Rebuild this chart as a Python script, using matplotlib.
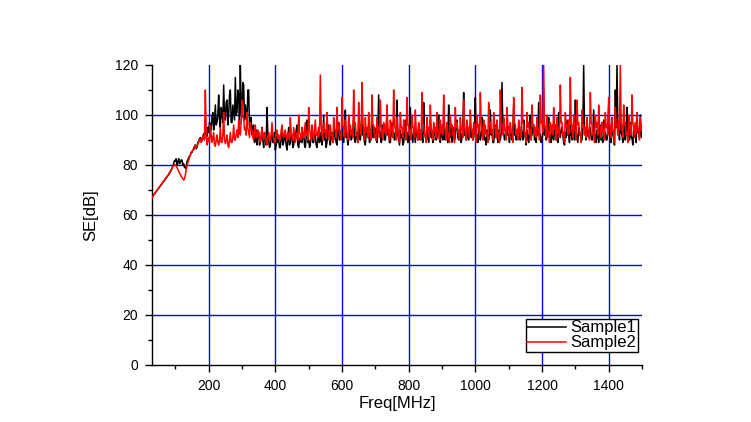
import numpy as np
import matplotlib
matplotlib.use("Agg")
import matplotlib.pyplot as plt

plt.rcParams['font.family'] = ['Liberation Sans', 'DejaVu Sans']

# Frequency grid (MHz): start and step of the sampled spectrum
freq_start = 30
freq_step = 2.5

# SE [dB], rows of 20 samples = 50 MHz each, starting at 30 MHz
sample1 = [
    67, 67.5, 68, 68.4, 68.9, 69.4, 69.8, 70.3, 70.7, 71.2, 71.6, 72.1, 72.5, 73, 73.4, 73.9, 74.3, 74.8, 75.2, 75.7,
    76, 76.8, 77.2, 78, 78.5, 79.5, 80.5, 81.8, 81.5, 82.5, 80, 81, 82.5, 80.5, 81, 82, 82, 80, 80.5, 79,
    79, 78.5, 81.5, 82, 83, 83.5, 84, 85, 85, 86, 86.5, 87.5, 88, 86.5, 87, 89, 89.5, 90.5, 91, 89.5,
    90, 91.5, 92.5, 90.5, 94, 93, 91.5, 95, 93, 97, 96, 94, 99, 101, 94, 97, 104, 96, 97, 100,
    108, 98, 95, 103, 101, 97, 112, 99, 98, 105, 106, 96, 100, 108, 110, 97, 97, 104, 101, 98,
    115, 100, 101, 110, 108, 96, 120, 101, 99, 113, 112, 98, 104, 100, 97, 110, 110, 96, 95, 99,
    92, 95, 96, 89, 90, 94, 88, 92, 93, 88, 89, 91, 95, 90, 87, 93, 91, 88, 103, 92,
    90, 87, 88, 91, 94, 89, 89, 93, 86, 88, 92, 89, 90, 87, 87, 91, 93, 88, 89, 92,
    91, 88, 86, 90, 95, 88, 89, 92, 92, 87, 88, 91, 90, 94, 96, 88, 87, 90, 91, 89,
    89, 92, 93, 88, 87, 91, 98, 89, 90, 87, 88, 93, 94, 89, 89, 92, 92, 88, 87, 90,
    95, 89, 90, 93, 88, 91, 100, 90, 91, 87, 89, 93, 96, 90, 88, 92, 93, 89, 90, 94,
    92, 89, 88, 93, 97, 90, 91, 94, 94, 90, 89, 93, 102, 91, 92, 88, 90, 93, 95, 90,
    91, 94, 98, 90, 89, 92, 93, 89, 96, 91, 90, 94, 104, 92, 92, 89, 88, 93, 95, 91,
    93, 89, 90, 94, 99, 91, 91, 95, 94, 90, 89, 93, 108, 94, 93, 89, 91, 96, 96, 90,
    90, 94, 101, 92, 92, 89, 89, 93, 97, 91, 93, 90, 91, 95, 106, 92, 90, 88, 94, 91,
    92, 88, 89, 93, 98, 92, 93, 89, 90, 95, 103, 93, 91, 89, 95, 92, 89, 94, 93, 90,
    96, 91, 90, 93, 92, 89, 105, 93, 91, 90, 94, 91, 89, 93, 97, 91, 92, 89, 90, 94,
    94, 90, 91, 95, 100, 91, 89, 93, 93, 90, 96, 91, 90, 94, 92, 89, 104, 92, 91, 95,
    89, 92, 95, 90, 92, 96, 98, 91, 90, 94, 93, 89, 91, 95, 109, 92, 92, 90, 94, 91,
    90, 94, 96, 91, 93, 90, 91, 95, 107, 91, 92, 89, 95, 93, 90, 92, 99, 94, 93, 90,
    91, 88, 94, 91, 90, 93, 102, 92, 93, 89, 89, 92, 96, 91, 92, 89, 94, 91, 90, 93,
    113, 95, 93, 90, 91, 94, 97, 92, 92, 89, 95, 92, 90, 93, 104, 92, 93, 90, 91, 94,
    95, 91, 90, 93, 93, 90, 98, 92, 91, 88, 94, 91, 89, 93, 100, 91, 92, 95, 96, 90,
    91, 89, 94, 92, 105, 93, 92, 89, 90, 93, 97, 92, 93, 90, 91, 94, 99, 91, 92, 89,
    94, 91, 90, 93, 96, 90, 92, 89, 101, 92, 91, 94, 95, 92, 89, 88, 93, 91, 98, 92,
    92, 89, 96, 93, 90, 92, 94, 90, 106, 93, 91, 89, 95, 92, 93, 90, 90, 94, 120, 95,
    93, 90, 97, 92, 91, 94, 95, 91, 90, 92, 102, 93, 92, 89, 94, 92, 89, 93, 96, 90,
    91, 89, 98, 92, 93, 90, 90, 94, 104, 92, 92, 89, 95, 93, 91, 88, 110, 95, 120, 96,
    94, 90, 99, 93, 92, 89, 96, 92, 90, 94, 103, 92, 93, 90, 97, 91, 91, 88, 95, 92,
    92, 89, 98, 93, 94, 91, 100, 92, 91, 94, 96, 92, 93, 90, 95, 91, 92, 89, 94, 93,
]

sample2 = [
    67, 67.5, 68, 68.5, 69, 69.4, 69.9, 70.3, 70.8, 71.3, 71.7, 72.2, 72.6, 73.1, 73.6, 74, 74.5, 75, 75.4, 75.9,
    76.3, 77, 77.5, 78.2, 78.8, 79.3, 79.8, 80.2, 80, 79.5, 79, 78.2, 77.5, 76.8, 76, 75.5, 75, 74.5, 74, 74.5,
    76, 78, 79.5, 81, 82, 83, 84, 85, 85.5, 86, 86, 87, 88, 87, 87.5, 88.5, 89, 90, 90.5, 89,
    89.5, 91, 92, 90, 110, 95, 88, 90, 91, 89, 96, 92, 89, 91, 93, 88, 87.5, 90, 92, 89,
    88, 90, 95, 89, 89, 92, 101, 90, 88.5, 90, 92, 88, 87, 90, 93, 89, 89, 91, 96, 90,
    90, 92, 94, 91, 98, 93, 92, 97, 106, 99, 99, 94, 95, 92, 101, 95, 93, 91, 97, 94,
    94, 91, 90, 93, 96, 91, 91, 94, 93, 90, 89, 92, 95, 91, 90, 93, 92, 89, 88, 91,
    93, 90, 90, 92, 97, 92, 91, 89, 89, 93, 94, 91, 92, 90, 90, 94, 96, 92, 91, 93,
    94, 91, 90, 93, 92, 90, 99, 93, 91, 90, 95, 92, 89, 91, 93, 90, 100, 93, 92, 90,
    95, 91, 91, 94, 97, 92, 93, 90, 103, 95, 92, 90, 96, 92, 90, 94, 98, 92, 93, 91,
    95, 92, 116, 96, 92, 90, 97, 93, 94, 91, 101, 94, 93, 90, 96, 92, 92, 89, 99, 94,
    94, 91, 103, 95, 96, 92, 92, 90, 107, 96, 95, 91, 98, 93, 93, 90, 100, 94, 96, 92,
    94, 91, 110, 96, 97, 92, 92, 89, 105, 95, 96, 92, 113, 97, 94, 90, 99, 93, 95, 91,
    101, 94, 93, 90, 108, 96, 96, 91, 92, 90, 99, 94, 95, 91, 106, 96, 93, 90, 97, 93,
    96, 92, 104, 95, 93, 90, 98, 94, 95, 91, 110, 96, 94, 90, 99, 94, 92, 89, 101, 95,
    95, 91, 98, 94, 93, 90, 107, 96, 96, 92, 94, 90, 100, 95, 95, 91, 102, 94, 93, 90,
    97, 93, 94, 90, 109, 96, 96, 92, 92, 89, 99, 94, 95, 91, 104, 95, 93, 90, 97, 93,
    95, 91, 101, 94, 93, 90, 98, 93, 96, 92, 108, 96, 94, 90, 97, 93, 92, 89, 100, 95,
    96, 92, 93, 89, 103, 95, 97, 93, 94, 90, 99, 94, 95, 91, 106, 96, 93, 90, 98, 94,
    95, 91, 102, 95, 94, 90, 97, 93, 93, 89, 100, 95, 96, 92, 109, 97, 94, 90, 98, 93,
    96, 92, 93, 89, 105, 96, 97, 93, 94, 90, 101, 95, 95, 91, 98, 93, 92, 89, 110, 96,
    96, 92, 99, 94, 94, 90, 103, 96, 95, 91, 97, 93, 93, 89, 107, 97, 96, 92, 94, 90,
    98, 93, 95, 91, 111, 97, 96, 92, 93, 89, 101, 95, 97, 92, 94, 90, 104, 96, 96, 92,
    95, 91, 99, 94, 94, 90, 108, 97, 97, 93, 120, 96, 95, 91, 100, 94, 93, 89, 97, 93,
    96, 92, 103, 95, 94, 90, 99, 94, 95, 91, 112, 97, 97, 92, 93, 89, 101, 95, 96, 92,
    98, 93, 115, 97, 95, 91, 100, 94, 94, 90, 106, 96, 97, 92, 93, 89, 102, 95, 96, 92,
    95, 91, 99, 94, 94, 90, 109, 97, 96, 92, 93, 89, 100, 95, 97, 92, 104, 96, 95, 91,
    97, 93, 94, 90, 101, 95, 96, 92, 107, 97, 95, 91, 99, 94, 93, 89, 103, 96, 96, 92,
    98, 94, 120, 97, 95, 91, 104, 96, 97, 92, 93, 89, 100, 95, 96, 92, 108, 97, 95, 91,
    97, 93, 101, 95, 94, 90, 99, 94, 96, 92, 98, 94, 95, 91, 100, 95, 96, 92, 97, 93,
]

series_labels = ["Sample1", "Sample2"]
x_ticks = [200, 400, 600, 800, 1000, 1200, 1400]
y_ticks = [0, 20, 40, 60, 80, 100, 120]

freq1 = freq_start + freq_step * np.arange(len(sample1))
freq2 = freq_start + freq_step * np.arange(len(sample2))

fig = plt.figure(figsize=(7.51, 4.22), dpi=100)
ax = fig.add_axes([152 / 751, 1 - 365 / 422, 490 / 751, 300 / 422])

for xt in x_ticks:
    ax.axvline(xt, color='#0000ff', lw=1.0, zorder=1)
for yt in y_ticks[1:-1]:
    ax.axhline(yt, color='#0000ff', lw=1.0, zorder=1)

ax.plot(freq1, sample1, color='black', lw=1.1, label=series_labels[0], zorder=2)
ax.plot(freq2, sample2, color='#ff0000', lw=1.1, label=series_labels[1], zorder=3)

ax.set_xlim(30, 1500)
ax.set_ylim(0, 120)
ax.set_xticks(x_ticks)
ax.set_yticks(y_ticks)
ax.set_xticks(np.arange(100, 1501, 200), minor=True)
ax.set_yticks(np.arange(10, 120, 20), minor=True)
ax.tick_params(axis='both', which='major', direction='out', length=5, width=1,
               labelsize=10, pad=5)
ax.tick_params(axis='both', which='minor', direction='out', length=3, width=1)

for s in ['top', 'right']:
    ax.spines[s].set_visible(False)
for s in ['left', 'bottom']:
    ax.spines[s].set_linewidth(1.0)

ax.set_xlabel("Freq[MHz]", fontsize=12, labelpad=2)
ax.set_ylabel("SE[dB]", fontsize=12, labelpad=12)

leg = ax.legend(loc='lower right', bbox_to_anchor=(0.992, 0.043), fontsize=12,
                frameon=True, fancybox=False, edgecolor='black', framealpha=1,
                borderpad=0.1, labelspacing=0.0, handlelength=2.3,
                handletextpad=0.3, borderaxespad=0)
leg.get_frame().set_linewidth(1.0)

fig.savefig("out.png", dpi=100)
